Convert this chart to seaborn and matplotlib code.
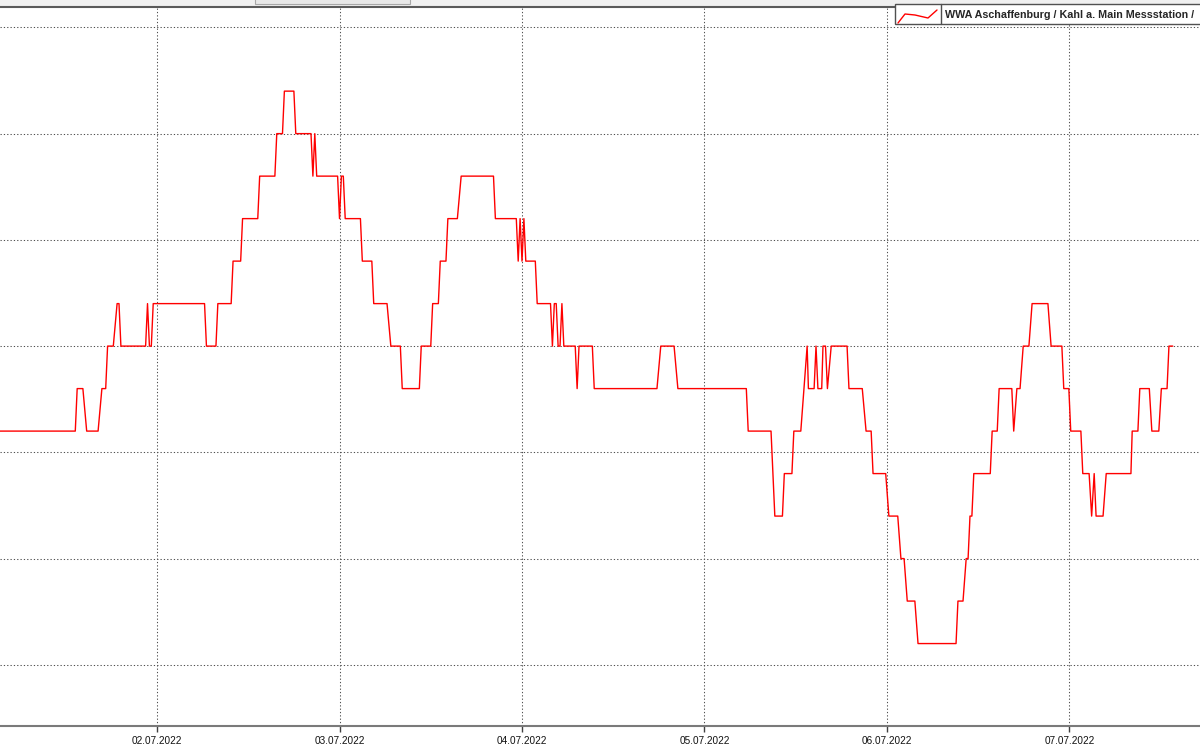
import matplotlib
matplotlib.use("Agg")
import matplotlib.pyplot as plt
import matplotlib.dates as mdates
from matplotlib.lines import Line2D
from matplotlib.patches import Rectangle
import pandas as pd
import seaborn as sns

zeit = [
    "01.07.2022 03:00", "01.07.2022 13:15", "01.07.2022 13:30", "01.07.2022 14:15",
    "01.07.2022 14:45", "01.07.2022 16:15", "01.07.2022 16:45", "01.07.2022 17:15",
    "01.07.2022 17:30", "01.07.2022 18:15", "01.07.2022 18:45", "01.07.2022 19:00",
    "01.07.2022 19:15", "01.07.2022 22:30", "01.07.2022 22:45", "01.07.2022 23:00",
    "01.07.2022 23:15", "01.07.2022 23:30",
    "02.07.2022 06:15", "02.07.2022 06:30", "02.07.2022 07:45", "02.07.2022 08:00",
    "02.07.2022 09:45", "02.07.2022 10:00", "02.07.2022 11:00", "02.07.2022 11:15",
    "02.07.2022 13:15", "02.07.2022 13:30", "02.07.2022 15:30", "02.07.2022 15:45",
    "02.07.2022 16:30", "02.07.2022 16:45", "02.07.2022 18:00", "02.07.2022 18:15",
    "02.07.2022 20:15", "02.07.2022 20:30", "02.07.2022 20:45", "02.07.2022 21:00",
    "02.07.2022 23:45",
    "03.07.2022 00:00", "03.07.2022 00:15", "03.07.2022 00:30", "03.07.2022 00:45",
    "03.07.2022 02:45", "03.07.2022 03:00", "03.07.2022 04:15", "03.07.2022 04:30",
    "03.07.2022 06:15", "03.07.2022 06:45", "03.07.2022 08:00", "03.07.2022 08:15",
    "03.07.2022 10:30", "03.07.2022 10:45", "03.07.2022 12:00", "03.07.2022 12:15",
    "03.07.2022 13:00", "03.07.2022 13:15", "03.07.2022 14:00", "03.07.2022 14:15",
    "03.07.2022 15:30", "03.07.2022 16:00", "03.07.2022 20:15", "03.07.2022 20:30",
    "03.07.2022 23:15", "03.07.2022 23:30", "03.07.2022 23:45",
    "04.07.2022 00:00", "04.07.2022 00:15", "04.07.2022 00:30", "04.07.2022 01:45",
    "04.07.2022 02:00", "04.07.2022 03:45", "04.07.2022 04:00", "04.07.2022 04:15",
    "04.07.2022 04:30", "04.07.2022 04:45", "04.07.2022 05:00", "04.07.2022 05:15",
    "04.07.2022 05:30", "04.07.2022 07:00", "04.07.2022 07:15", "04.07.2022 07:30",
    "04.07.2022 09:15", "04.07.2022 09:30", "04.07.2022 17:45", "04.07.2022 18:15",
    "04.07.2022 20:00", "04.07.2022 20:30",
    "05.07.2022 05:30", "05.07.2022 05:45", "05.07.2022 08:45", "05.07.2022 09:15",
    "05.07.2022 10:15", "05.07.2022 10:30", "05.07.2022 11:30", "05.07.2022 11:45",
    "05.07.2022 12:40", "05.07.2022 13:05", "05.07.2022 13:30", "05.07.2022 13:40",
    "05.07.2022 14:25", "05.07.2022 14:40", "05.07.2022 14:55", "05.07.2022 15:25",
    "05.07.2022 15:35", "05.07.2022 15:55", "05.07.2022 16:10", "05.07.2022 16:40",
    "05.07.2022 18:45", "05.07.2022 19:00", "05.07.2022 20:45", "05.07.2022 21:15",
    "05.07.2022 21:55", "05.07.2022 22:10", "05.07.2022 23:50",
    "06.07.2022 00:15", "06.07.2022 01:25", "06.07.2022 01:50", "06.07.2022 02:15",
    "06.07.2022 02:40", "06.07.2022 03:40", "06.07.2022 04:05", "06.07.2022 09:05",
    "06.07.2022 09:20", "06.07.2022 10:00", "06.07.2022 10:25", "06.07.2022 10:40",
    "06.07.2022 10:55", "06.07.2022 11:10", "06.07.2022 11:25", "06.07.2022 13:35",
    "06.07.2022 13:50", "06.07.2022 14:30", "06.07.2022 14:45", "06.07.2022 16:25",
    "06.07.2022 16:40", "06.07.2022 17:05", "06.07.2022 17:30", "06.07.2022 17:55",
    "06.07.2022 18:40", "06.07.2022 19:05", "06.07.2022 21:10", "06.07.2022 21:35",
    "06.07.2022 23:00", "06.07.2022 23:15", "06.07.2022 23:55",
    "07.07.2022 00:10", "07.07.2022 01:30", "07.07.2022 01:45", "07.07.2022 02:35",
    "07.07.2022 02:55", "07.07.2022 03:15", "07.07.2022 03:30", "07.07.2022 04:25",
    "07.07.2022 04:50", "07.07.2022 08:05", "07.07.2022 08:15", "07.07.2022 09:00",
    "07.07.2022 09:15", "07.07.2022 10:30", "07.07.2022 10:50", "07.07.2022 11:45",
    "07.07.2022 12:05", "07.07.2022 12:50", "07.07.2022 13:05", "07.07.2022 13:35",
]

temp = [
    22.8, 22.8, 22.9, 22.9, 22.8, 22.8, 22.9, 22.9, 23.0, 23.0, 23.1, 23.1,
    23.0, 23.0, 23.1, 23.0, 23.0, 23.1,
    23.1, 23.0, 23.0, 23.1, 23.1, 23.2, 23.2, 23.3, 23.3, 23.4, 23.4, 23.5,
    23.5, 23.6, 23.6, 23.5, 23.5, 23.4, 23.5, 23.4, 23.4,
    23.3, 23.4, 23.4, 23.3, 23.3, 23.2, 23.2, 23.1, 23.1, 23.0, 23.0, 22.9,
    22.9, 23.0, 23.0, 23.1, 23.1, 23.2, 23.2, 23.3, 23.3, 23.4, 23.4, 23.3,
    23.3, 23.2, 23.3,
    23.2, 23.3, 23.2, 23.2, 23.1, 23.1, 23.0, 23.1, 23.1, 23.0, 23.0, 23.1,
    23.0, 23.0, 22.9, 23.0, 23.0, 22.9, 22.9, 23.0, 23.0, 22.9,
    22.9, 22.8, 22.8, 22.6, 22.6, 22.7, 22.7, 22.8, 22.8, 22.9, 23.0, 22.9,
    22.9, 23.0, 22.9, 22.9, 23.0, 23.0, 22.9, 23.0, 23.0, 22.9, 22.9, 22.8,
    22.8, 22.7, 22.7,
    22.6, 22.6, 22.5, 22.5, 22.4, 22.4, 22.3, 22.3, 22.4, 22.4, 22.5, 22.5,
    22.6, 22.6, 22.7, 22.7, 22.8, 22.8, 22.9, 22.9, 22.8, 22.9, 22.9, 23.0,
    23.0, 23.1, 23.1, 23.0, 23.0, 22.9, 22.9,
    22.8, 22.8, 22.7, 22.7, 22.6, 22.7, 22.6, 22.6, 22.7, 22.7, 22.8, 22.8,
    22.9, 22.9, 22.8, 22.8, 22.9, 22.9, 23.0, 23.0,
]

y_gitter = [22.25, 22.5, 22.75, 23.0, 23.25, 23.5, 23.75]
y_bereich = (22.106, 23.798)
x_bereich = ("01.07.2022 03:21", "07.07.2022 17:10")
legende = "WWA Aschaffenburg / Kahl a. Main Messstation /"

df = pd.DataFrame({
    "zeit": pd.to_datetime(zeit, format="%d.%m.%Y %H:%M"),
    "temp": temp,
})

sns.set_style("white")
plt.rcParams["font.family"] = ["Liberation Sans", "DejaVu Sans"]

fig = plt.figure(figsize=(12, 7.5), dpi=100)
ax = fig.add_axes([0, 24 / 750, 1, 719 / 750])

sns.lineplot(data=df, x="zeit", y="temp", color="#ff0000", linewidth=1,
             ax=ax, legend=False)

ax.set_xlim(pd.to_datetime(list(x_bereich), format="%d.%m.%Y %H:%M"))
ax.set_ylim(*y_bereich)
ax.set_yticks(y_gitter)
ax.set_yticklabels([])
ax.xaxis.set_major_locator(mdates.DayLocator())
ax.xaxis.set_major_formatter(mdates.DateFormatter("%d.%m.%Y"))
ax.set_xlabel("")
ax.set_ylabel("")

# punktiertes Gitter wie im Original
ax.grid(True, color="#505050", linestyle=(0, (1.2, 2.0)), linewidth=0.75)
ax.tick_params(axis="x", direction="out", length=4.5, width=1, color="#404040",
               labelsize=7.2, pad=3, labelcolor="#111111", bottom=True)
ax.tick_params(axis="y", length=0)

for s in ("left", "right"):
    ax.spines[s].set_visible(False)
ax.spines["top"].set_color("#5a5a5a")
ax.spines["top"].set_linewidth(1.5)
ax.spines["bottom"].set_color("#7a7a7a")
ax.spines["bottom"].set_linewidth(1.5)

# graue Leiste oben mit angeschnittenem Feld
fig.patches.append(Rectangle((0, 743 / 750), 1, 7 / 750, transform=fig.transFigure,
                             facecolor="#f0f0f0", edgecolor="none", zorder=-5))
fig.patches.append(Rectangle((255 / 1200, 746.5 / 750), 155 / 1200, 5 / 750,
                             transform=fig.transFigure, facecolor="#e8e8e8",
                             edgecolor="#a8a8a8", linewidth=0.8))

# Legende (rechts angeschnitten)
fig.patches.append(Rectangle((895 / 1200, 726 / 750), 320 / 1200, 20.5 / 750,
                             transform=fig.transFigure, facecolor="white",
                             edgecolor="#505050", linewidth=1, zorder=5))
fig.add_artist(Line2D([941 / 1200, 941 / 1200], [726 / 750, 746.5 / 750],
                      transform=fig.transFigure, color="#505050", lw=1, zorder=6))
zx = [898, 905, 915, 928, 937]
zy = [23, 14, 15, 18, 10]
fig.add_artist(Line2D([v / 1200 for v in zx], [1 - v / 750 for v in zy],
                      transform=fig.transFigure, color="#ff0000", lw=1, zorder=6))
fig.text(945 / 1200, 1 - 14.5 / 750, legende, fontsize=7.75, fontweight="bold",
         va="center", ha="left", zorder=7)

fig.savefig("out.png", dpi=100)
